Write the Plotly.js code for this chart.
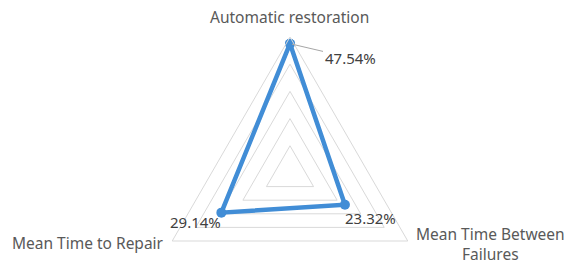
<!DOCTYPE html>
<html>
<head>
<meta charset="utf-8">
<script src="https://cdn.plot.ly/plotly-3.0.1.min.js"></script>
<style>
html,body{margin:0;padding:0;overflow:hidden;background:#fff;width:566px;height:264px;}
#chart{width:566px;height:310px;}
</style>
</head>
<body>
<div id="chart"></div>
<script>
// ---- data ----
var categories = ["Automatic restoration", "Mean Time Between Failures", "Mean Time to Repair"];
var values = [47.54, 23.32, 29.14];
var valueLabels = ["47.54%", "23.32%", "29.14%"];
var radialTicks = [0, 10, 20, 30, 40, 50];

// ---- layout geometry (pixels) ----
var W = 566, H = 310;
var cx = 290, cy = 173, R = 136;
var rMax = 50;
var FONT = "Noto Sans, Open Sans, sans-serif";

function px2paper(x, y) { return {x: x / W, y: 1 - y / H}; }
function pointPx(i) {
  var ang = (90 - i * 120) * Math.PI / 180;
  var r = values[i] / rMax * R;
  return {x: cx + r * Math.cos(ang), y: cy - r * Math.sin(ang)};
}

var trace = {
  type: "scatterpolar",
  r: values.concat([values[0]]),
  theta: categories.concat([categories[0]]),
  mode: "lines+markers",
  line: {color: "#418dd6", width: 4.5},
  marker: {color: "#418dd6", size: 10},
  hoverinfo: "skip",
  showlegend: false
};

var annotations = [];
// category labels
annotations.push({text: categories[0], xref: "paper", yref: "paper",
  x: px2paper(289, 17).x, y: px2paper(289, 17).y, xanchor: "center", yanchor: "middle",
  showarrow: false, font: {family: FONT, size: 15.5, color: "#595959"}});
annotations.push({text: "Mean Time Between<br>Failures", xref: "paper", yref: "paper",
  x: px2paper(490, 244).x, y: px2paper(490, 244).y, xanchor: "center", yanchor: "middle",
  align: "center", showarrow: false, font: {family: FONT, size: 15.5, color: "#595959"}});
annotations.push({text: categories[2], xref: "paper", yref: "paper",
  x: px2paper(166, 243).x, y: px2paper(166, 243).y, xanchor: "right", yanchor: "middle",
  showarrow: false, font: {family: FONT, size: 15.5, color: "#595959"}});

// value labels
var p0 = pointPx(0), p1 = pointPx(1), p2 = pointPx(2);
annotations.push({text: valueLabels[0], xref: "paper", yref: "paper",
  x: px2paper(p0.x, p0.y).x, y: px2paper(p0.x, p0.y).y,
  showarrow: true, arrowhead: 0, arrowwidth: 1, arrowcolor: "#a6a6a6",
  ax: 60, ay: 14, standoff: 2,
  font: {family: FONT, size: 15, color: "#404040"}});
annotations.push({text: valueLabels[1], xref: "paper", yref: "paper",
  x: px2paper(p1.x, p1.y).x, y: px2paper(p1.x, p1.y).y,
  showarrow: false, xshift: 26, yshift: -13,
  font: {family: FONT, size: 15, color: "#404040"}});
annotations.push({text: valueLabels[2], xref: "paper", yref: "paper",
  x: px2paper(p2.x, p2.y).x, y: px2paper(p2.x, p2.y).y,
  showarrow: false, xshift: -26, yshift: -21,
  font: {family: FONT, size: 15, color: "#404040"}});

var layout = {
  width: W, height: H,
  margin: {l: 0, r: 0, t: 0, b: 0},
  paper_bgcolor: "#ffffff",
  showlegend: false,
  polar: {
    domain: {x: [(cx - R) / W, (cx + R) / W], y: [1 - (cy + R) / H, 1 - (cy - R) / H]},
    gridshape: "linear",
    bgcolor: "rgba(0,0,0,0)",
    radialaxis: {
      range: [0, rMax], tickvals: radialTicks, showticklabels: false, ticks: "",
      showline: false, gridcolor: "#d9d9d9", gridwidth: 1
    },
    angularaxis: {
      rotation: 90, direction: "clockwise", showticklabels: false, ticks: "",
      showgrid: false, showline: true, linecolor: "#d9d9d9", linewidth: 1
    }
  },
  annotations: annotations
};

Plotly.newPlot("chart", [trace], layout, {displayModeBar: false, staticPlot: true});
</script>
</body>
</html>
